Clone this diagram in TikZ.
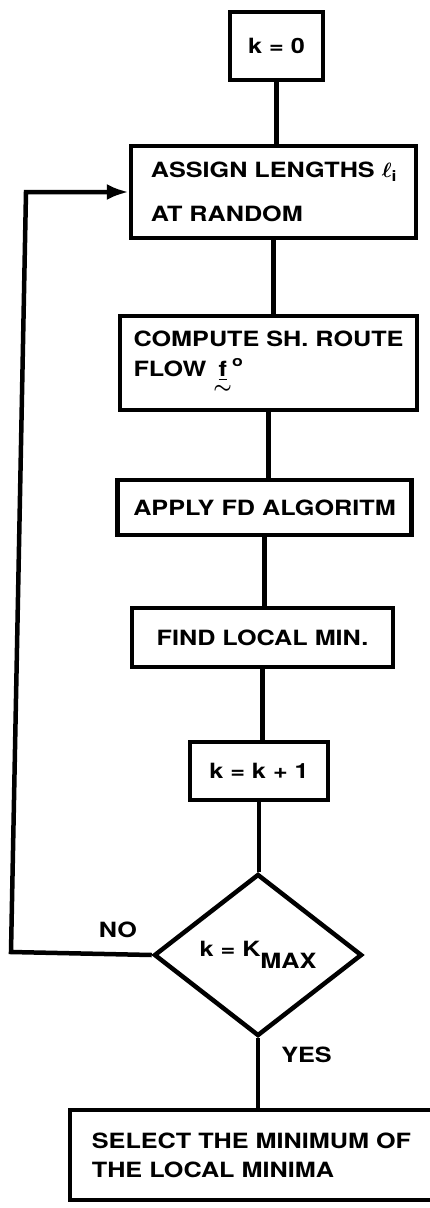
\documentclass[tikz,border=0pt]{standalone}
\usepackage{amsmath}
\usepackage{bm}
\usepackage{fontspec}
\setmainfont{TeX Gyre Heros}[FakeStretch=1.2]
\usetikzlibrary{arrows.meta,shapes.geometric}
\begin{document}
\begin{tikzpicture}[x=1pt,y=-1pt,
  txt/.style={font=\fontsize{21}{25}\selectfont\bfseries},
  box/.style={txt, draw, line width=4.5pt, inner sep=0pt},
  link/.style={line width=4.5pt},
  lbl/.style={txt, inner sep=0pt}]
\useasboundingbox (0,0) rectangle (430,1208);
\fill[white] (0,0) rectangle (430,1208);

\node[box, minimum width=93pt, minimum height=68pt] (k0) at (276.5,46) {k = 0};
\node[box, minimum width=285pt, minimum height=92pt, align=left] (assign) at (273.5,192)
  {ASSIGN LENGTHS $\bm{\ell}_{\mathbf{i}}$\\[19pt]AT RANDOM};
\node[box, minimum width=297pt, minimum height=94pt, align=left] (compute) at (268.5,363)
  {COMPUTE SH. ROUTE\\[5pt]FLOW $\underset{\textstyle\bm{\sim}}{\underline{\text{\bfseries f}}}^{\text{\bfseries o}}$};
\node[box, minimum width=294pt, minimum height=55pt] (apply) at (264.5,507.5) {APPLY FD ALGORITM};
\node[box, minimum width=261pt, minimum height=59pt] (find) at (262.5,637.5) {FIND LOCAL MIN.};
\node[box, minimum width=138pt, minimum height=58pt] (kk1) at (259,771) {k = k + 1};
\node[box, diamond, minimum width=208pt, minimum height=162pt] (dec) at (258,955)
  {k = K\raisebox{-12pt}{MAX}};
\node[box, minimum width=363pt, minimum height=90pt, align=left] (select) at (251.5,1155)
  {SELECT THE MINIMUM OF\\[4pt]THE LOCAL MINIMA};

\node[lbl] (no) at (118,929.5) {NO};
\node[lbl] (yes) at (306.5,1055) {YES};

\coordinate (c1) at (11,952);
\coordinate (c2) at (26,192);

\draw[link] (k0.south) -- (k0.south |- assign.north);
\draw[link] (assign.south) -- (assign.south |- compute.north);
\draw[link] (compute.south) -- (compute.south |- apply.north);
\draw[link] (apply.south) -- (apply.south |- find.north);
\draw[link] (find.south) -- (find.south |- kk1.north);
\draw[link] (kk1.south) -- (kk1.south |- dec.north);
\draw[link] (dec.south) -- (dec.south |- select.north);
\draw[link, -{Latex[length=22pt,width=16pt]}] (dec.west) -- (c1) -- (c2) -- (c2 -| assign.west);
\end{tikzpicture}
\end{document}
